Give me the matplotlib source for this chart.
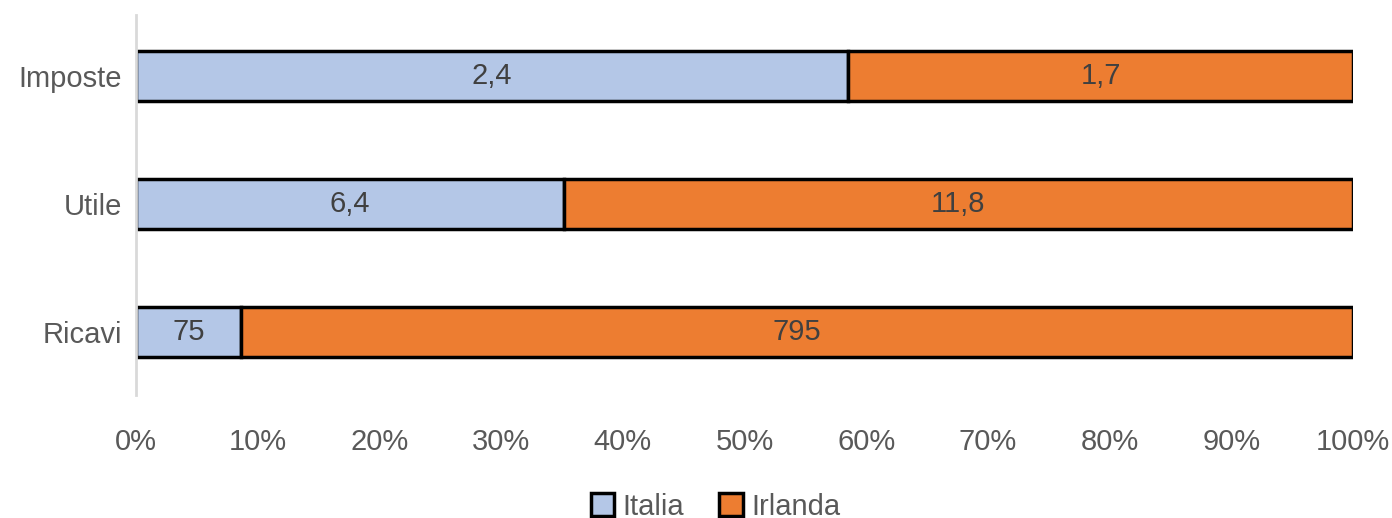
import numpy as np
import matplotlib.pyplot as plt

plt.rcParams['font.family'] = ['Liberation Sans', 'DejaVu Sans']

categories = ['Ricavi', 'Utile', 'Imposte']
italia = [75, 6.4, 2.4]
irlanda = [795, 11.8, 1.7]
italia_labels = ['75', '6,4', '2,4']
irlanda_labels = ['795', '11,8', '1,7']

tot = np.array(italia) + np.array(irlanda)
it_pct = np.array(italia) / tot
ir_pct = np.array(irlanda) / tot

text_col = '#595959'
fig = plt.figure(figsize=(13.92, 5.18), dpi=100)
ax = fig.add_axes([0.0977, 0.2375, 0.8743, 0.7335])

y = np.arange(len(categories))
b1 = ax.barh(y, it_pct, height=0.39, color='#B4C7E7', edgecolor='black', linewidth=2.5, label='Italia')
b2 = ax.barh(y, ir_pct, left=it_pct, height=0.39, color='#ED7D31', edgecolor='black', linewidth=2.5, label='Irlanda')
ax.bar_label(b1, labels=italia_labels, label_type='center', fontsize=21, color='#404040')
ax.bar_label(b2, labels=irlanda_labels, label_type='center', fontsize=21, color='#404040')

ax.set_xlim(0, 1)
ax.set_ylim(-0.49, 2.48)
ax.set_yticks(y)
ax.set_yticklabels(categories)
ax.set_xticks(np.linspace(0, 1, 11))
ax.set_xticklabels([f'{i}%' for i in range(0, 101, 10)])
ax.tick_params(axis='both', length=0, labelsize=21, labelcolor=text_col)
ax.tick_params(axis='x', pad=24)
ax.tick_params(axis='y', pad=10)
for s in ['top', 'right', 'bottom']:
    ax.spines[s].set_visible(False)
ax.spines['left'].set_color('#D9D9D9')
ax.spines['left'].set_linewidth(2)

fig.legend(handles=[b1, b2], loc='center', bbox_to_anchor=(0.514, 0.022), ncol=2, frameon=False,
           fontsize=21, labelcolor=text_col, handlelength=0.8, handleheight=0.8, handletextpad=0.3,
           columnspacing=1.2)

fig.savefig('out.png', dpi=100)
